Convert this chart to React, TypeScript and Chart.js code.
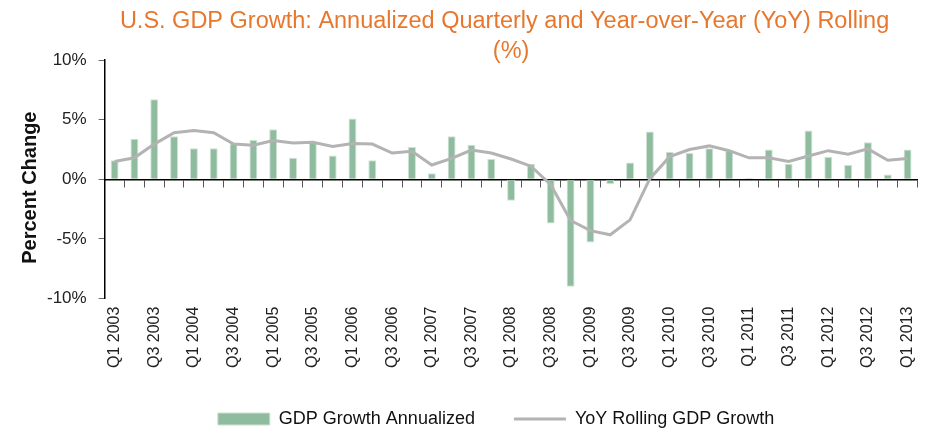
import React, { useEffect, useRef } from "react";
import { Chart, registerables } from "chart.js";

Chart.register(...registerables);

const quarters: string[] = [
  "Q1 2003", "Q2 2003", "Q3 2003", "Q4 2003",
  "Q1 2004", "Q2 2004", "Q3 2004", "Q4 2004",
  "Q1 2005", "Q2 2005", "Q3 2005", "Q4 2005",
  "Q1 2006", "Q2 2006", "Q3 2006", "Q4 2006",
  "Q1 2007", "Q2 2007", "Q3 2007", "Q4 2007",
  "Q1 2008", "Q2 2008", "Q3 2008", "Q4 2008",
  "Q1 2009", "Q2 2009", "Q3 2009", "Q4 2009",
  "Q1 2010", "Q2 2010", "Q3 2010", "Q4 2010",
  "Q1 2011", "Q2 2011", "Q3 2011", "Q4 2011",
  "Q1 2012", "Q2 2012", "Q3 2012", "Q4 2012",
  "Q1 2013",
];

const gdpAnnualized: number[] = [
  1.6, 3.4, 6.7, 3.6, 2.6, 2.6, 3.0, 3.3, 4.2, 1.8, 3.1, 2.0, 5.1, 1.6, 0.0,
  2.7, 0.5, 3.6, 2.9, 1.7, -1.8, 1.3, -3.7, -9.0, -5.3, -0.4, 1.4, 4.0, 2.3,
  2.2, 2.6, 2.4, 0.1, 2.5, 1.3, 4.1, 1.9, 1.2, 3.1, 0.4, 2.5,
];

const yoyRolling: number[] = [
  1.5, 1.8, 2.95, 3.9, 4.1, 3.9, 2.95, 2.85, 3.25, 3.05, 3.1, 2.75, 3.0, 2.95,
  2.2, 2.35, 1.2, 1.75, 2.45, 2.2, 1.7, 1.1, -0.45, -3.45, -4.3, -4.65, -3.4,
  0.05, 1.9, 2.5, 2.8, 2.4, 1.8, 1.8, 1.5, 1.95, 2.4, 2.1, 2.55, 1.6, 1.75,
];

const yTicks: number[] = [-10, -5, 0, 5, 10];

const titleLines: string[] = [
  "U.S. GDP Growth: Annualized Quarterly and Year-over-Year (YoY) Rolling  ",
  "(%)",
];

const seriesNames: string[] = ["GDP Growth Annualized", "YoY Rolling GDP Growth"];

const yAxisTitle = "Percent Change   ";

const SANS = "'Liberation Sans', Arial, sans-serif";

export default function App() {
  const ref = useRef<HTMLCanvasElement | null>(null);

  useEffect(() => {
    document.body.style.margin = "0";
    if (!ref.current) return;
    const chart = new Chart(ref.current, {
      type: "bar",
      data: {
        labels: quarters,
        datasets: [
          {
            type: "line",
            label: seriesNames[1],
            data: yoyRolling,
            borderColor: "#b3b3b3",
            backgroundColor: "#b3b3b3",
            borderWidth: 3,
            pointRadius: 0,
            pointStyle: "line",
            tension: 0,
            xAxisID: "x",
            yAxisID: "y",
            order: 0,
          } as any,
          {
            type: "bar",
            label: seriesNames[0],
            data: gdpAnnualized,
            backgroundColor: "#8fbb9f",
            borderColor: "#cde2d5",
            borderWidth: 1,
            pointStyle: "rect",
            barPercentage: 0.4,
            categoryPercentage: 1,
            xAxisID: "x",
            yAxisID: "y",
            order: 1,
          } as any,
        ],
      },
      options: {
        animation: false,
        responsive: false,
        maintainAspectRatio: false,
        layout: { padding: { left: 18, right: 12, top: 0, bottom: -7 } },
        plugins: {
          tooltip: { enabled: false },
          title: {
            display: true,
            text: titleLines,
            color: "#e8772e",
            fullSize: false,
            font: { family: SANS, size: 23.5, weight: "normal", lineHeight: 30 / 23.5 },
            padding: { top: 7, bottom: -7 },
          },
          legend: {
            position: "bottom",
            fullSize: false,
            reverse: true,
            labels: {
              usePointStyle: true,
              pointStyleWidth: 52,
              boxHeight: 12,
              color: "#111",
              padding: 34,
              font: { family: SANS, size: 18 },
              generateLabels: (c: any) => {
                const items = Chart.defaults.plugins.legend.labels.generateLabels(c);
                return items.map((it: any) => {
                  if (it.text === seriesNames[1]) return { ...it, text: it.text + "      " };
                  if (it.text === seriesNames[0]) return { ...it, text: it.text + " " };
                  return it;
                });
              },
            },
          },
        },
        scales: {
          x: {
            type: "category",
            position: "bottom",
            offset: true,
            grid: { display: false, drawTicks: false },
            border: { display: false },
            ticks: {
              autoSkip: false,
              maxRotation: 90,
              minRotation: 90,
              padding: 8,
              color: "#222",
              font: { family: SANS, size: 16 },
              callback: (_v: any, i: number) => (i % 2 === 0 ? quarters[i] : ""),
            },
          },
          x2: {
            type: "category",
            position: { y: 0 } as any,
            offset: true,
            grid: {
              display: true,
              offset: true,
              drawOnChartArea: false,
              drawTicks: true,
              tickLength: 7,
              color: "#555",
              lineWidth: 1,
            },
            border: { display: true, color: "#000", width: 1.5 },
            ticks: { display: false },
          },
          y: {
            min: -10,
            max: 10,
            afterBuildTicks: (axis: any) => {
              axis.ticks = yTicks.map((v) => ({ value: v }));
            },
            grid: {
              display: true,
              drawOnChartArea: false,
              drawTicks: true,
              tickLength: 6,
              color: "#666",
            },
            border: { display: true, color: "#000", width: 1.5 },
            ticks: {
              padding: 12,
              color: "#222",
              font: { family: SANS, size: 17 },
              callback: (v: any) => `${v}%`,
            },
            title: {
              display: true,
              text: yAxisTitle,
              color: "#111",
              font: { family: SANS, size: 20, weight: "bold" },
              padding: { top: 0, bottom: -7 },
            },
          },
        },
      },
    });
    return () => chart.destroy();
  }, []);

  return (
    <div style={{ width: 935, height: 431 }}>
      <canvas ref={ref} width={935} height={431} style={{ width: 935, height: 431, display: "block" }} />
    </div>
  );
}
